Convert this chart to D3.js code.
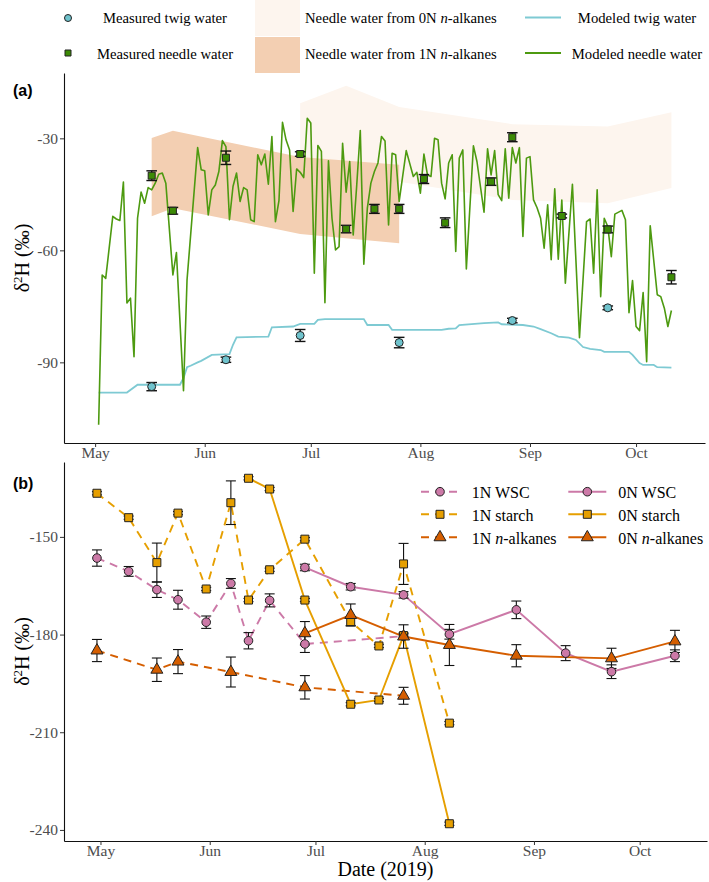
<!DOCTYPE html>
<html lang="en">
<head>
<meta charset="UTF-8">
<title>Needle and twig water δ2H</title>
<style>
  body { margin: 0; background: #fff; }
  svg text { font-family: "Liberation Serif", "Times New Roman", serif; }
</style>
</head>
<body>
<div id="chart"></div>
<script src="https://d3js.org/d3.v7.min.js"></script>
<script>

// ---------- panel (a) data ----------
// measured water (sampling dates, mean, error)
const twigObsDates = ["2019-05-17","2019-06-07","2019-06-28","2019-07-26","2019-08-27","2019-09-23"];
const twigObs      = [-96.5, -89.3, -82.8, -84.7, -78.8, -75.4];
const twigObsErr   = [1.1, 0.7, 1.6, 1.4, 0.6, 0.5];

const needleObsDates = ["2019-05-17","2019-05-23","2019-06-07","2019-06-28","2019-07-11","2019-07-19","2019-07-26",
                        "2019-08-02","2019-08-08","2019-08-21","2019-08-27","2019-09-10","2019-09-23","2019-10-11"];
const needleObs      = [-40.0, -49.4, -35.2, -34.2, -54.3, -48.9, -48.9, -40.9, -52.6, -41.6, -29.7, -50.8, -54.4, -67.2];
const needleObsErr   = [1.3, 0.9, 1.8, 0.6, 1.0, 1.2, 1.2, 1.2, 1.3, 1.0, 1.2, 0.5, 0.9, 1.8];

// modeled series, day = days after 1 May 2019
const twigModelDay = [1,9,12,24,25,26,27,29,30,33,38,39,40,49,50,56,58,62,63,65,76,77,83,84,98,100,102,103,110,114,
                      115,121,124,126,129,131,134,136,138,140,143,144,151,152,154,155,158,159,163];
const twigModel    = [-98.1,-98.1,-96.0,-96.0,-94.2,-91.3,-90.9,-90.0,-89.6,-88.0,-87.8,-85.3,-83.3,-83.1,-80.6,
                      -80.4,-79.7,-79.7,-78.6,-78.4,-78.4,-80.0,-80.0,-81.3,-81.3,-81.0,-80.9,-80.0,-79.5,-79.3,
                      -79.8,-80.0,-80.4,-81.1,-82.2,-83.1,-83.4,-84.0,-85.9,-86.4,-86.7,-87.2,-87.2,-88.0,-90.2,
                      -90.7,-90.7,-91.3,-91.4];

const needleModelDay = [1,2,3,5,6,7,8,9,10,11,12,13,14,15,16,17,18,19,20,22,23,25,26,29,30,31,32,33,34,35,
                        36,37,38,39,40,41,42,43,44,45,46,47,48,49,50,51,52,53,54,55,56,57,58,59,60,61,62,63,64,65,
                        66,67,68,69,70,71,72,73,74,75,76,77,78,79,80,81,82,83,84,85,86,88,90,91,92,93,94,95,96,97,
                        98,99,100,101,102,103,104,105,107,108,110,111,112,113,114,115,116,117,118,119,120,121,122,123,124,125,
                        126,127,128,129,130,131,132,133,135,137,139,140,141,142,143,144,145,146,147,149,150,151,152,153,
                        154,155,156,157,159,160,161,162,163];
const needleModel    = [-106.7,-66.6,-67.5,-50.9,-51.6,-52.0,-41.7,-74.1,-72.8,-88.5,
                        -51.4,-44.4,-47.4,-43.2,-43.8,-42.0,-39.6,-39.3,-42.0,-66.6,
                        -60.6,-97.6,-67.9,-32.5,-38.4,-38.7,-50.5,-43.8,-42.5,-38.9,
                        -30.6,-32.2,-51.8,-42.9,-39.3,-46.9,-43.2,-43.8,-51.8,-52.3,
                        -34.4,-37.1,-34.2,-42.3,-29.5,-52.3,-46.7,-25.7,-30.4,-33.1,
                        -49.6,-38.2,-39.1,-40.5,-24.6,-25.9,-66.1,-31.9,-33.5,-74.0,
                        -36.0,-51.4,-59.9,-59.0,-31.3,-44.4,-36.2,-55.9,-42.5,-27.9,
                        -63.7,-48.7,-42.0,-38.9,-36.6,-29.5,-30.7,-53.2,-34.0,-34.4,
                        -46.9,-33.3,-40.2,-39.1,-44.7,-34.2,-39.8,-40.2,-30.0,-30.4,
                        -42.0,-46.2,-36.6,-34.4,-60.3,-35.3,-33.1,-65.0,-32.0,-36.2,
                        -49.8,-32.8,-39.8,-33.3,-45.1,-46.7,-32.8,-46.0,-32.5,-36.6,
                        -32.5,-56.3,-35.3,-34.9,-46.5,-48.6,-51.4,-59.4,-47.8,-62.5,
                        -43.5,-62.4,-46.5,-68.8,-42.3,-83.4,-52.3,-51.6,-66.1,-43.8,
                        -72.4,-51.4,-53.6,-61.7,-50.3,-49.3,-51.8,-76.7,-68.1,-80.4,
                        -81.5,-71.3,-89.8,-53.4,-71.9,-72.4,-75.5,-80.4,-76.1];

// needle water inferred from n-alkanes (ranges)
const band0NDay  = [58, 71, 86, 118, 145, 163];
const band0NLow  = [-40.6, -36.0, -41.6, -46.5, -47.4, -43.3];
const band0NHigh = [-20.6, -15.9, -21.6, -26.2, -26.8, -23.0];
const band1NDay  = [16, 22, 58, 86];
const band1NLow  = [-50.9, -48.7, -55.6, -58.1];
const band1NHigh = [-29.9, -28.0, -35.0, -37.1];

// ---------- panel (b) data ----------
const wsc1NDates = ["2019-04-30","2019-05-09","2019-05-17","2019-05-23","2019-05-31","2019-06-07","2019-06-12","2019-06-18","2019-06-28","2019-07-26"];
const wsc1N      = [-156.5,-160.6,-166.2,-169.3,-176.2,-164.3,-181.9,-169.5,-182.9,-180.5];
const wsc1NErr   = [2.5,1.5,2.4,2.9,1.9,1.5,2.5,2.0,2.6,1.0];

const starch1NDates = ["2019-04-30","2019-05-09","2019-05-17","2019-05-23","2019-05-31","2019-06-07","2019-06-12","2019-06-18","2019-06-28","2019-07-11","2019-07-19","2019-07-26","2019-08-08"];
const starch1N      = [-136.6,-144.1,-157.9,-142.7,-166.0,-139.5,-169.4,-160.1,-150.7,-176.0,-183.5,-158.3,-207.2];
const starch1NErr   = [0.5,0.5,6.0,0.5,0.5,6.7,0.5,0.5,0.5,1.2,0.5,6.3,0.5];

const alk1NDates = ["2019-04-30","2019-05-17","2019-05-23","2019-06-07","2019-06-28","2019-07-26"];
const alk1N      = [-184.9,-190.8,-188.3,-191.5,-196.2,-198.8];
const alk1NErr   = [3.4,3.6,3.7,4.6,3.6,2.6];

const wsc0NDates = ["2019-06-28","2019-07-11","2019-07-26","2019-08-08","2019-08-27","2019-09-10","2019-09-23","2019-10-11"];
const wsc0N      = [-159.4,-165.3,-167.8,-179.9,-172.4,-185.7,-191.4,-186.5];
const wsc0NErr   = [1.0,1.0,1.0,1.5,2.7,2.3,2.1,1.8];

const starch0NDates = ["2019-06-12","2019-06-18","2019-06-28","2019-07-11","2019-07-19","2019-07-26","2019-08-08"];
const starch0N      = [-132.0,-135.3,-169.4,-201.4,-200.1,-180.3,-238.1];
const starch0NErr   = [0.5,0.5,0.5,0.5,0.5,0.5,0.5];

const alk0NDates = ["2019-06-28","2019-07-11","2019-07-26","2019-08-08","2019-08-27","2019-09-23","2019-10-11"];
const alk0N      = [-179.6,-174.0,-180.6,-183.2,-186.5,-187.3,-182.1];
const alk0NErr   = [3.6,3.4,3.6,6.3,3.4,3.1,3.4];

const monthTicks = ["2019-05-01","2019-06-01","2019-07-01","2019-08-01","2019-09-01","2019-10-01"];
const yTicksA = [-90, -60, -30];
const yTicksB = [-240, -210, -180, -150];

// ---------- colours ----------
const colTwig = "#7ecad3", colTwigPt = "#6fc3cd";
const colNeedle = "#4d9a10", colNeedlePt = "#3c8a05";
const colBand0 = "#fdf5ee", colBand1 = "#f3cfb2";
const colWSC = "#cc79a7", colStarch = "#e69f00", colAlk = "#d55e00";

const parse = d3.timeParse("%Y-%m-%d");
const may1 = new Date(2019, 4, 1);
const fromDay = d => new Date(may1.getTime() + d * 864e5);
const zip = (dates, vals, errs) => vals.map((v, i) => ({date: dates[i], value: v, err: errs ? errs[i] : 0}));

const svg = d3.select("#chart").append("svg").attr("width", 709).attr("height", 882);

// scales
const xA = d3.scaleTime().domain([fromDay(-8.8), fromDay(172.5)]).range([64, 705]);
const yA = d3.scaleLinear().domain([-111.6, -12.5]).range([443, 73]);
const xB = d3.scaleTime().domain([fromDay(-10.35), fromDay(172.1)]).range([64, 707]);
const yB = d3.scaleLinear().domain([-243.4, -127]).range([841, 462]);

function drawAxes(x, y, yTicks) {
  const g = svg.append("g");
  const xa = g.append("g").attr("transform", `translate(0,${y.range()[0]})`)
    .call(d3.axisBottom(x).tickValues(monthTicks.map(parse)).tickFormat(d3.timeFormat("%b"))
      .tickSize(4).tickSizeOuter(0).tickPadding(0));
  const ya = g.append("g").attr("transform", `translate(${x.range()[0]},0)`)
    .call(d3.axisLeft(y).tickValues(yTicks).tickFormat(d => String(d))
      .tickSize(4).tickSizeOuter(0).tickPadding(2));
  [xa, ya].forEach(a => {
    a.attr("font-family", null).attr("font-size", null);
    a.select(".domain").attr("stroke", "#111").attr("stroke-width", 1.1);
    a.selectAll(".tick line").attr("stroke", "#333").attr("stroke-width", 1);
    a.selectAll(".tick text").attr("fill", "#4d4d4d").style("font-size", "15.5px");
  });
}

function errorBars(g, data, x, y, cap, width) {
  const e = g.append("g").attr("stroke", "#111").attr("stroke-width", width).attr("fill", "none");
  data.forEach(d => {
    const cx = x(d.date), lo = y(d.value - d.err), hi = y(d.value + d.err);
    e.append("line").attr("x1", cx).attr("x2", cx).attr("y1", lo).attr("y2", hi);
    e.append("line").attr("x1", cx - cap).attr("x2", cx + cap).attr("y1", lo).attr("y2", lo);
    e.append("line").attr("x1", cx - cap).attr("x2", cx + cap).attr("y1", hi).attr("y2", hi);
  });
}

function drawSymbol(g, kind, cx, cy, fill, size) {
  if (kind === "circle") {
    return g.append("circle").attr("cx", cx).attr("cy", cy).attr("r", size)
      .attr("fill", fill).attr("stroke", "#222").attr("stroke-width", 1);
  }
  const type = kind === "square" ? d3.symbolSquare : d3.symbolTriangle;
  return g.append("path").attr("d", d3.symbol(type, size)())
    .attr("transform", `translate(${cx},${cy})`)
    .attr("fill", fill).attr("stroke", "#222").attr("stroke-width", 1);
}

function yTitle(cy) {
  const t = svg.append("text").attr("transform", `translate(29,${cy}) rotate(-90)`)
    .attr("text-anchor", "middle").style("font-size", "20px").attr("fill", "#000");
  t.append("tspan").text("δ");
  t.append("tspan").attr("dy", -7).style("font-size", "13px").text("2");
  t.append("tspan").attr("dy", 7).text("H (‰)");
}

function alkLabel(t, prefix) {
  t.append("tspan").text(prefix);
  t.append("tspan").style("font-style", "italic").text("n");
  t.append("tspan").text("-alkanes");
}

// =================== panel (a) ===================
const pa = svg.append("g");

const band0 = band0NDay.map((d, i) => ({date: fromDay(d), low: band0NLow[i], high: band0NHigh[i]}));
const band1 = band1NDay.map((d, i) => ({date: fromDay(d), low: band1NLow[i], high: band1NHigh[i]}));
const areaA = d3.area().x(d => xA(d.date)).y0(d => yA(d.low)).y1(d => yA(d.high));
pa.append("path").datum(band0).attr("d", areaA).attr("fill", colBand0);
pa.append("path").datum(band1).attr("d", areaA).attr("fill", colBand1);

const lineA = d3.line().x(d => xA(d.date)).y(d => yA(d.value));
const twigLine = twigModelDay.map((d, i) => ({date: fromDay(d), value: twigModel[i]}));
const needleLine = needleModelDay.map((d, i) => ({date: fromDay(d), value: needleModel[i]}));
pa.append("path").datum(twigLine).attr("d", lineA).attr("fill", "none")
  .attr("stroke", colTwig).attr("stroke-width", 1.8);
pa.append("path").datum(needleLine).attr("d", lineA).attr("fill", "none")
  .attr("stroke", colNeedle).attr("stroke-width", 1.6).attr("stroke-linejoin", "round");

const twigPts = zip(twigObsDates.map(parse), twigObs, twigObsErr);
const needlePts = zip(needleObsDates.map(parse), needleObs, needleObsErr);
errorBars(pa, twigPts, xA, yA, 5.3, 1.4);
errorBars(pa, needlePts, xA, yA, 5.3, 1.4);
twigPts.forEach(d => drawSymbol(pa, "circle", xA(d.date), yA(d.value), colTwigPt, 4));
needlePts.forEach(d => drawSymbol(pa, "square", xA(d.date), yA(d.value), colNeedlePt, 49));

drawAxes(xA, yA, yTicksA);
yTitle(258);
svg.append("text").attr("x", 13).attr("y", 96).text("(a)")
  .style("font-family", "'Liberation Sans', Arial, sans-serif").style("font-weight", "bold").style("font-size", "16px");

// legend (a)
const la = svg.append("g").style("font-size", "14.7px");
drawSymbol(la, "circle", 68, 18, colTwigPt, 3.5);
drawSymbol(la, "square", 68, 53, colNeedlePt, 36);
la.append("text").attr("x", 165).attr("y", 23).attr("text-anchor", "middle").text("Measured twig water");
la.append("text").attr("x", 165).attr("y", 58.5).attr("text-anchor", "middle").text("Measured needle water");
la.append("rect").attr("x", 255).attr("y", 0).attr("width", 45).attr("height", 36).attr("fill", colBand0);
la.append("rect").attr("x", 255).attr("y", 37).attr("width", 45).attr("height", 36).attr("fill", colBand1);
alkLabel(la.append("text").attr("x", 305).attr("y", 23), "Needle water from 0N ");
alkLabel(la.append("text").attr("x", 305).attr("y", 58.5), "Needle water from 1N ");
la.append("line").attr("x1", 525).attr("x2", 561).attr("y1", 17.5).attr("y2", 17.5)
  .attr("stroke", colTwig).attr("stroke-width", 2);
la.append("line").attr("x1", 525).attr("x2", 561).attr("y1", 53).attr("y2", 53)
  .attr("stroke", colNeedle).attr("stroke-width", 2);
la.append("text").attr("x", 637).attr("y", 23).attr("text-anchor", "middle").text("Modeled twig water");
la.append("text").attr("x", 637).attr("y", 58.5).attr("text-anchor", "middle").text("Modeled needle water");

// =================== panel (b) ===================
const pb = svg.append("g");
const seriesB = [
  {name: "1N WSC",    col: colWSC,    shape: "circle",   dash: true,  pts: zip(wsc1NDates.map(parse), wsc1N, wsc1NErr)},
  {name: "1N starch", col: colStarch, shape: "square",   dash: true,  pts: zip(starch1NDates.map(parse), starch1N, starch1NErr)},
  {name: "1N ",       col: colAlk,    shape: "triangle", dash: true,  alk: true, pts: zip(alk1NDates.map(parse), alk1N, alk1NErr)},
  {name: "0N WSC",    col: colWSC,    shape: "circle",   dash: false, pts: zip(wsc0NDates.map(parse), wsc0N, wsc0NErr)},
  {name: "0N starch", col: colStarch, shape: "square",   dash: false, pts: zip(starch0NDates.map(parse), starch0N, starch0NErr)},
  {name: "0N ",       col: colAlk,    shape: "triangle", dash: false, alk: true, pts: zip(alk0NDates.map(parse), alk0N, alk0NErr)}
];
const symSize = {circle: 4.3, square: 64, triangle: 62};

const lineB = d3.line().x(d => xB(d.date)).y(d => yB(d.value));
seriesB.forEach(s => {
  pb.append("path").datum(s.pts).attr("d", lineB).attr("fill", "none")
    .attr("stroke", s.col).attr("stroke-width", 1.9)
    .attr("stroke-dasharray", s.dash ? "8,6" : null);
});
seriesB.forEach(s => errorBars(pb, s.pts, xB, yB, 5, 1.1));
seriesB.forEach(s => s.pts.forEach(d => drawSymbol(pb, s.shape, xB(d.date), yB(d.value), s.col, symSize[s.shape])));

drawAxes(xB, yB, yTicksB);
yTitle(651.5);
svg.append("text").attr("x", 13).attr("y", 489).text("(b)")
  .style("font-family", "'Liberation Sans', Arial, sans-serif").style("font-weight", "bold").style("font-size", "16px");
svg.append("text").attr("x", 385.5).attr("y", 876).attr("text-anchor", "middle")
  .style("font-size", "20px").text("Date (2019)");

// legend (b)
const lb = svg.append("g").style("font-size", "16px");
const rowY = [491.7, 514.3, 537.3];
seriesB.forEach((s, i) => {
  const col = i < 3 ? 0 : 1, row = i % 3;
  const kx = col === 0 ? 440 : 587.3, tx = col === 0 ? 471.7 : 618.3, cy = rowY[row];
  lb.append("line").attr("x1", kx - 19).attr("x2", kx + 19).attr("y1", cy).attr("y2", cy)
    .attr("stroke", s.col).attr("stroke-width", 1.9).attr("stroke-dasharray", s.dash ? "8,6" : null);
  drawSymbol(lb, s.shape, kx, cy, s.col, symSize[s.shape]);
  const t = lb.append("text").attr("x", tx).attr("y", cy + 6.3);
  if (s.alk) alkLabel(t, s.name); else t.text(s.name);
});
</script>
</body>
</html>
